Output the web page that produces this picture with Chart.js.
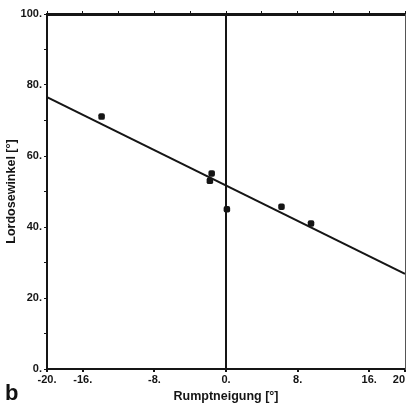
<!DOCTYPE html>
<html><head><meta charset="utf-8">
<script src="https://cdn.jsdelivr.net/npm/chart.js@4/dist/chart.umd.min.js"></script>
<style>
html,body{margin:0;padding:0;background:#fff;}
#wrap{position:relative;width:406px;height:405px;}
#lbl{position:absolute;left:5px;top:380px;font:bold 22px "Liberation Sans",Arial,sans-serif;color:#111;}
</style></head>
<body><div id="wrap"><canvas id="c" width="406" height="405"></canvas><div id="lbl">b</div></div>
<script>
const pointsX = [-13.9, -1.6, -1.8, 0.1, 6.2, 9.5];
const pointsY = [71.1, 55.1, 53.0, 45.0, 45.7, 41.0];
const lineX = [-20, 20];
const lineY = [76.6, 26.8];
const xTicks = [-20, -16, -8, 0, 8, 16, 20];
const xTickLabels = ['-20.', '-16.', '-8.', '0.', '8.', '16.', '20    '];
const yTicks = [0, 10, 20, 30, 40, 50, 60, 70, 80, 90, 100];
const yTickLabels = ['0.', '', '20.', '', '40.', '', '60.', '', '80.', '', '100.'];
const topTicks = [-20, -16, -12, -8, -4, 0, 4, 8, 12, 16, 20];
const xTitle = 'Rumptneigung [°]';
const yTitle = 'Lordosewinkel [°]';

const ink = '#151515';
const tickFont = {family: '"Liberation Sans", Arial, sans-serif', size: 11, weight: 'bold'};
const titleFont = {family: '"Liberation Sans", Arial, sans-serif', size: 12.5, weight: 'bold'};

new Chart(document.getElementById('c'), {
  type: 'scatter',
  data: {
    datasets: [
      {
        type: 'line',
        data: lineX.map((x, i) => ({x, y: lineY[i]})),
        borderColor: ink, borderWidth: 2, pointRadius: 0, fill: false
      },
      {
        data: pointsX.map((x, i) => ({x, y: pointsY[i]})),
        backgroundColor: ink, borderColor: ink, pointStyle: 'rectRounded', pointRadius: 3.8, borderWidth: 0
      }
    ]
  },
  options: {
    responsive: false, animation: false,
    layout: {padding: 0, autoPadding: false},
    plugins: {legend: {display: false}, tooltip: {enabled: false}},
    scales: {
      x: {
        type: 'linear', position: 'bottom', min: -20, max: 20,
        afterBuildTicks: s => { s.ticks = xTicks.map(v => ({value: v})); },
        afterFit: s => { s.height = 36; s.paddingLeft = 0; s.paddingRight = 0; },
        grid: {
          color: c => (c.tick && c.tick.value === 0 ? ink : 'rgba(0,0,0,0)'),
          lineWidth: 2, tickColor: ink, tickLength: 3, drawTicks: true
        },
        border: {display: true, color: ink, width: 2},
        ticks: {
          color: ink, font: tickFont, padding: 1, maxRotation: 0, autoSkip: false,
          callback: v => { const i = xTicks.indexOf(v); return i >= 0 ? xTickLabels[i] : ''; }
        },
        title: {display: true, text: xTitle, color: ink, font: titleFont, padding: {top: 0, bottom: 1}}
      },
      xTop: {
        type: 'linear', position: 'top', min: -20, max: 20,
        afterBuildTicks: s => { s.ticks = topTicks.map(v => ({value: v})); },
        afterFit: s => { s.height = 14; s.paddingLeft = 0; s.paddingRight = 0; },
        grid: {drawOnChartArea: false, tickColor: ink, tickLength: 3},
        border: {display: true, color: ink, width: 3},
        ticks: {display: false}
      },
      y: {
        type: 'linear', position: 'left', min: 0, max: 100,
        afterBuildTicks: s => { s.ticks = yTicks.map(v => ({value: v})); },
        afterFit: s => { s.width = 47; },
        grid: {drawOnChartArea: false, tickColor: ink, tickLength: 3},
        border: {display: true, color: ink, width: 2},
        ticks: {
          color: ink, font: tickFont, padding: 2, autoSkip: false,
          callback: v => { const i = yTicks.indexOf(v); return i >= 0 ? yTickLabels[i] : ''; }
        },
        title: {display: true, text: yTitle, color: ink, font: titleFont, padding: {top: 4, bottom: 4}}
      },
      yRight: {
        type: 'linear', position: 'right', min: 0, max: 100,
        afterFit: s => { s.width = 1; },
        grid: {drawOnChartArea: false, drawTicks: false},
        border: {display: true, color: '#555', width: 1},
        ticks: {display: false}
      }
    }
  }
});
</script>
</body></html>
